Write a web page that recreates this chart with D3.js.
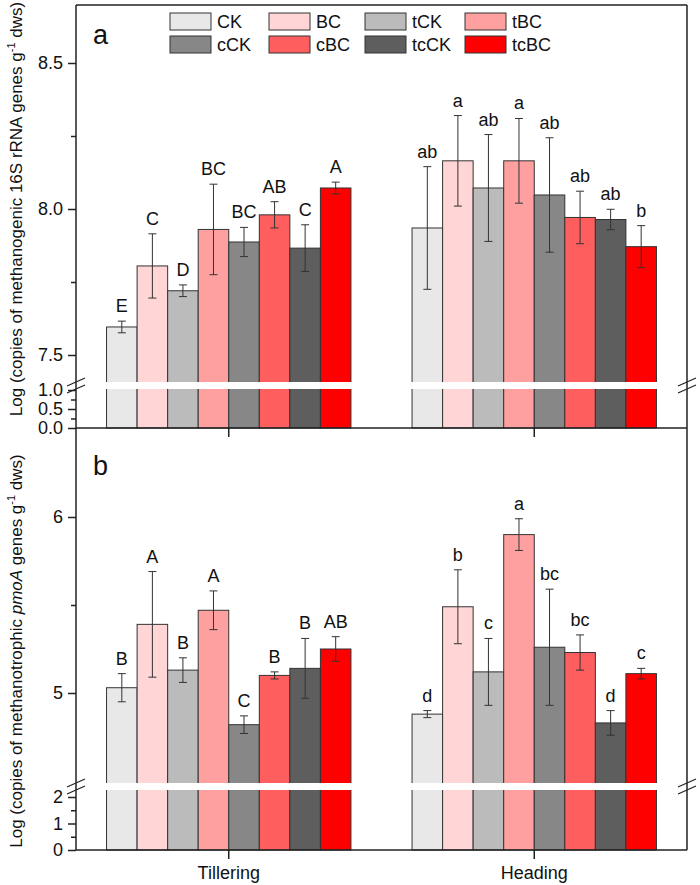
<!DOCTYPE html>
<html><head><meta charset="utf-8">
<script src="https://cdn.jsdelivr.net/npm/d3@7"></script>
<style>body{margin:0;background:#fff} text{font-family:"Liberation Sans",Arial,sans-serif;fill:#111}</style>
</head><body><svg id="c" width="700" height="885"></svg>
<script>
const groups = ["Tillering","Heading"];
const treatments = ["CK","BC","tCK","tBC","cCK","cBC","tcCK","tcBC"];
const colors = ["#e8e8e8","#ffd5d5","#bbbbbb","#ffa0a0","#878787","#ff5e5e","#5e5e5e","#ff0000"];

// Panel a: methanogenic 16S rRNA
const aTillering = [7.596, 7.805, 7.72, 7.93, 7.887, 7.98, 7.866, 8.072];
const aTillErr   = [0.02, 0.11, 0.02, 0.155, 0.05, 0.045, 0.08, 0.02];
const aTillLet   = ["E","C","D","BC","BC","AB","C","A"];
const aHeading   = [7.935, 8.165, 8.072, 8.165, 8.048, 7.971, 7.964, 7.871];
const aHeadErr   = [0.21, 0.155, 0.183, 0.145, 0.196, 0.09, 0.035, 0.072];
const aHeadLet   = ["ab","a","ab","a","ab","ab","ab","b"];
// Panel b: methanotrophic pmoA
const bTillering = [5.03, 5.39, 5.13, 5.47, 4.82, 5.10, 5.14, 5.25];
const bTillErr   = [0.08, 0.30, 0.07, 0.11, 0.05, 0.02, 0.17, 0.07];
const bTillLet   = ["B","A","B","A","C","B","B","AB"];
const bHeading   = [4.88, 5.49, 5.12, 5.90, 5.26, 5.23, 4.83, 5.11];
const bHeadErr   = [0.02, 0.21, 0.19, 0.09, 0.33, 0.10, 0.07, 0.03];
const bHeadLet   = ["d","b","c","a","bc","bc","d","c"];

const aUpTicks = [7.5, 8.0, 8.5], aUpMinor = [7.75, 8.25], aLowTicks = [0, 0.5, 1.0], aLowMinor = [0.25, 0.75];
const bUpTicks = [5, 6], bUpMinor = [5.5], bLowTicks = [0, 1, 2], bLowMinor = [0.5, 1.5];

const svg = d3.select("#c");
const X0 = 76, X1 = 687;
const xBand = d3.scaleBand().domain(groups).range([X0, X1]);
const bw = xBand.bandwidth();
const xIn = d3.scaleBand().domain(treatments).range([0.1*bw, 0.9*bw]);
const color = d3.scaleOrdinal().domain(treatments).range(colors);
const stroke = "#333";

function panel(cfg){
  const g = svg.append("g");
  const rows = [];
  cfg.series.forEach((s, gi) => s.vals.forEach((v, i) => rows.push({grp: groups[gi], t: treatments[i], v, e: s.err[i], l: s.let[i]})));
  // bars
  g.selectAll("rect.bar").data(rows).join("rect").attr("class", "bar")
    .attr("x", d => xBand(d.grp) + xIn(d.t)).attr("width", xIn.bandwidth())
    .attr("y", d => cfg.yUp(d.v)).attr("height", d => cfg.base - cfg.yUp(d.v))
    .attr("fill", d => color(d.t)).attr("stroke", stroke).attr("stroke-width", 1);
  // gap (axis break)
  groups.forEach(gr => {
    g.append("rect").attr("x", xBand(gr) + xIn.range()[0] - 1).attr("width", xIn.range()[1]-xIn.range()[0] + 2)
      .attr("y", cfg.gap[0]).attr("height", cfg.gap[1]-cfg.gap[0]).attr("fill", "#fff");
  });
  // error bars
  const cx = d => xBand(d.grp) + xIn(d.t) + xIn.bandwidth()/2;
  g.selectAll("line.eb").data(rows).join("line").attr("class", "eb")
    .attr("x1", cx).attr("x2", cx).attr("y1", d => cfg.yUp(d.v + d.e)).attr("y2", d => cfg.yUp(d.v - d.e))
    .attr("stroke", stroke).attr("stroke-width", 1);
  [["capT", 1], ["capB", -1]].forEach(([cls, sg]) => {
    g.selectAll("line." + cls).data(rows).join("line").attr("class", cls)
      .attr("x1", d => cx(d) - 4).attr("x2", d => cx(d) + 4)
      .attr("y1", d => cfg.yUp(d.v + sg * d.e))
      .attr("y2", d => cfg.yUp(d.v + sg * d.e))
      .attr("stroke", stroke).attr("stroke-width", 1);
  });
  // letters
  g.selectAll("text.let").data(rows).join("text").attr("class", "let")
    .attr("x", cx).attr("y", d => cfg.yUp(d.v + d.e) - 9)
    .attr("text-anchor", "middle").attr("font-size", 18).text(d => d.l);
  // axes
  const up = g.append("g").attr("transform", `translate(${X0},0)`)
    .call(d3.axisLeft(cfg.yUp).tickValues(cfg.upTicks).tickSize(8).tickPadding(5).tickFormat(cfg.fmt));
  const upm = g.append("g").attr("transform", `translate(${X0},0)`)
    .call(d3.axisLeft(cfg.yUp).tickValues(cfg.upMinor).tickSize(5).tickFormat(""));
  const lo = g.append("g").attr("transform", `translate(${X0},0)`)
    .call(d3.axisLeft(cfg.yLow).tickValues(cfg.lowTicks).tickSize(8).tickPadding(5).tickFormat(cfg.fmt));
  const lom = g.append("g").attr("transform", `translate(${X0},0)`)
    .call(d3.axisLeft(cfg.yLow).tickValues(cfg.lowMinor).tickSize(5).tickFormat(""));
  [up, upm, lo, lom].forEach(a => {
    a.select(".domain").remove();
    a.selectAll("line").attr("stroke", "#222").attr("stroke-width", 1.5);
    a.selectAll("text").attr("font-size", 18).attr("font-family", "Liberation Sans, Arial, sans-serif").attr("fill", "#111");
  });
  // x ticks
  const xa = g.append("g").attr("transform", `translate(0,${cfg.base})`)
    .call(d3.axisBottom(xBand).tickSize(9).tickFormat(cfg.xlabels ? (d => d) : ""));
  xa.select(".domain").remove();
  xa.selectAll("line").attr("stroke", "#222").attr("stroke-width", 1.5);
  xa.selectAll("text").attr("font-size", 18).attr("font-family", "Liberation Sans, Arial, sans-serif").attr("fill", "#111").attr("dy", "0.95em");
  // frame
  const fr = g.append("g").attr("stroke", "#222").attr("stroke-width", 1.5).attr("fill", "none");
  fr.append("line").attr("x1", X0).attr("x2", X0).attr("y1", cfg.top).attr("y2", cfg.base);
  fr.append("line").attr("x1", X1).attr("x2", X1).attr("y1", cfg.top).attr("y2", cfg.base);
  fr.append("line").attr("x1", X0).attr("x2", X1).attr("y1", cfg.base).attr("y2", cfg.base);
  if (cfg.topLine) fr.append("line").attr("x1", X0).attr("x2", X1).attr("y1", cfg.top).attr("y2", cfg.top);
  // break marks
  const gy = (cfg.gap[0] + cfg.gap[1]) / 2;
  [X0, X1].forEach(x => {
    [-3.5, 3.5].forEach(o => {
      fr.append("line").attr("x1", x - 9).attr("y1", gy + o + 4).attr("x2", x + 9).attr("y2", gy + o - 4)
        .attr("stroke-width", 1.3);
    });
  });
  // panel letter
  g.append("text").attr("x", 93).attr("y", cfg.top + cfg.labelDy).attr("font-size", 27).text(cfg.name);
  // y title
  const t = g.append("text").attr("transform", `translate(22,${cfg.titleY}) rotate(-90)`)
    .attr("text-anchor", "middle").attr("font-size", 17);
  cfg.title.forEach(p => {
    const ts = t.append("tspan").text(p.s);
    if (p.i) ts.attr("font-style", "italic");
    if (p.sup) ts.attr("font-size", 11).attr("dy", -7);
    if (p.down) ts.attr("dy", 7);
  });
}

panel({
  name: "a", top: 5, base: 428, labelDy: 39, topLine: true,
  yUp: d3.scaleLinear().domain([7.5, 8.5]).range([355, 63]),
  yLow: d3.scaleLinear().domain([0, 1]).range([428, 390]),
  gap: [382, 389], upTicks: aUpTicks, upMinor: aUpMinor, lowTicks: aLowTicks, lowMinor: aLowMinor,
  fmt: d3.format(".1f"),
  series: [{vals: aTillering, err: aTillErr, let: aTillLet}, {vals: aHeading, err: aHeadErr, let: aHeadLet}],
  titleY: 209,
  title: [{s: "Log (copies of methanogenic 16S rRNA genes g"}, {s: "-1", sup: true}, {s: " dws)", down: true}]
});
panel({
  name: "b", top: 428, base: 850, labelDy: 47, topLine: false, xlabels: true,
  yUp: d3.scaleLinear().domain([5, 6]).range([693, 517]),
  yLow: d3.scaleLinear().domain([0, 2]).range([850, 797]),
  gap: [783, 790], upTicks: bUpTicks, upMinor: bUpMinor, lowTicks: bLowTicks, lowMinor: bLowMinor,
  fmt: d3.format("d"),
  series: [{vals: bTillering, err: bTillErr, let: bTillLet}, {vals: bHeading, err: bHeadErr, let: bHeadLet}],
  titleY: 651,
  title: [{s: "Log (copies of methanotrophic "}, {s: "pmoA", i: true}, {s: " genes g"}, {s: "-1", sup: true}, {s: " dws)", down: true}]
});

// legend
const legX = [170, 269, 365, 465], legY = [13, 36];
const leg = svg.append("g");
treatments.forEach((t, i) => {
  const c = i % 4, r = Math.floor(i / 4);
  leg.append("rect").attr("x", legX[c]).attr("y", legY[r]).attr("width", 41).attr("height", 17)
    .attr("fill", color(t)).attr("stroke", stroke).attr("stroke-width", 1);
  leg.append("text").attr("x", legX[c] + 47).attr("y", legY[r] + 15).attr("font-size", 18).text(t);
});
</script></body></html>
